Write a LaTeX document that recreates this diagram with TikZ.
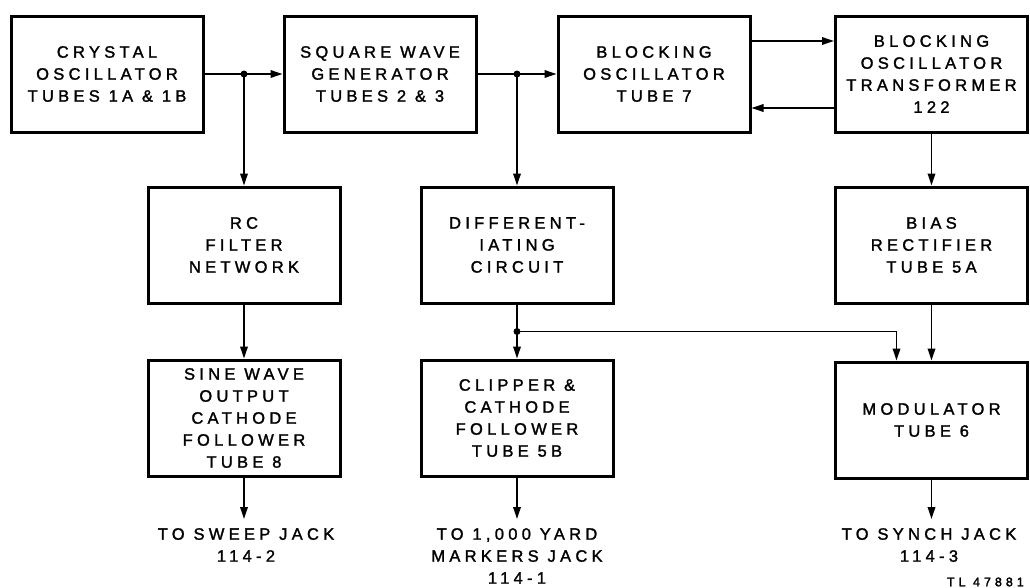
\documentclass[tikz,border=0pt]{standalone}
\usepackage{fontspec}
\setmainfont{Liberation Sans}[LetterSpace=26, FakeBold=1.6]
\newfontfamily\tlfont{Liberation Sans}[LetterSpace=32, FakeBold=2]
\usetikzlibrary{arrows.meta,positioning,calc}
\newcommand{\blockfont}{\fontsize{16.5}{22}\selectfont}

\begin{document}
\begin{tikzpicture}[x=1pt, y=-1pt,
  blk/.style={draw, line width=3pt, minimum width=192pt,
    minimum height=116pt, align=center, inner sep=0pt, font=\blockfont},
  wire/.style={line width=1.8pt},
  conn/.style={wire, -{Triangle[length=12pt,width=7.5pt]}},
  outlbl/.style={align=center, inner xsep=0pt, inner ysep=9pt,
    anchor=north, font=\blockfont}]
  \useasboundingbox (0,0) rectangle (1030,587);

  % Top row
  \node[blk] (crystal)     at (107,74)   {CRYSTAL\\OSCILLATOR\\TUBES 1A \& 1B};
  \node[blk] (square)      at (380,74)   {SQUARE WAVE\\GENERATOR\\TUBES 2 \& 3};
  \node[blk] (blocking)    at (654,74)   {BLOCKING\\OSCILLATOR\\TUBE 7};
  \node[blk] (transformer) at (931.5,74) {BLOCKING\\OSCILLATOR\\TRANSFORMER\\122};

  % Middle row
  \node[blk] (rc)   at (244,245)   {RC\\FILTER\\NETWORK};
  \node[blk] (diff) at (517,245)   {DIFFERENT-\\IATING\\CIRCUIT};
  \node[blk] (bias) at (931.5,245) {BIAS\\RECTIFIER\\TUBE 5A};

  % Bottom row
  \node[blk] (sine)    at (244,418)   {SINE WAVE\\OUTPUT\\CATHODE\\FOLLOWER\\TUBE 8};
  \node[blk] (clipper) at (517,418)   {CLIPPER \&\\CATHODE\\FOLLOWER\\TUBE 5B};
  \node[blk] (mod)     at (931.5,420) {MODULATOR\\TUBE 6};

  % Outputs
  \node[outlbl] (sweep) at (246,519)   {TO SWEEP JACK\\114-2};
  \node[outlbl] (yard)  at (517,519)   {TO 1,000 YARD\\MARKERS JACK\\114-1};
  \node[outlbl] (synch) at (929,519)   {TO SYNCH JACK\\114-3};
  \node[anchor=east, inner sep=0pt, font=\tlfont\fontsize{12.5}{13}\selectfont]
    (tlno) at (1024,582) {TL 47881};

  % Junctions
  \coordinate (j1) at (crystal.east -| rc.north);
  \coordinate (j2) at (square.east -| diff.north);
  \coordinate (j3) at ($(diff.south)!0.5!(clipper.north)$);

  % Connectors
  \draw[wire] (crystal.east) -- (j1);
  \draw[conn] (j1) -- (square.west);
  \draw[conn] (j1) -- (rc.north);
  \draw[wire] (square.east) -- (j2);
  \draw[conn] (j2) -- (blocking.west);
  \draw[conn] (j2) -- (diff.north);
  \draw[conn] ([yshift=33pt]blocking.east) -- ([yshift=33pt]transformer.west);
  \draw[conn] ([yshift=-34pt]transformer.west) -- ([yshift=-34pt]blocking.east);
  \draw[conn] (transformer.south) -- (bias.north);
  \draw[conn] (rc.south) -- (sine.north);
  \draw[wire] (diff.south) -- (j3);
  \draw[conn] (j3) -- (clipper.north);
  \draw[conn] (j3) -| ([xshift=-35pt]mod.north);
  \draw[conn] (bias.south) -- (bias.south |- mod.north);
  \draw[conn] (sine.south) -- (sine.south |- sweep.north);
  \draw[conn] (clipper.south) -- (yard.north);
  \draw[conn] (mod.south) -- (mod.south |- synch.north);

  \foreach \j in {j1,j2,j3}
    \fill (\j) circle (3.5pt);
\end{tikzpicture}
\end{document}
